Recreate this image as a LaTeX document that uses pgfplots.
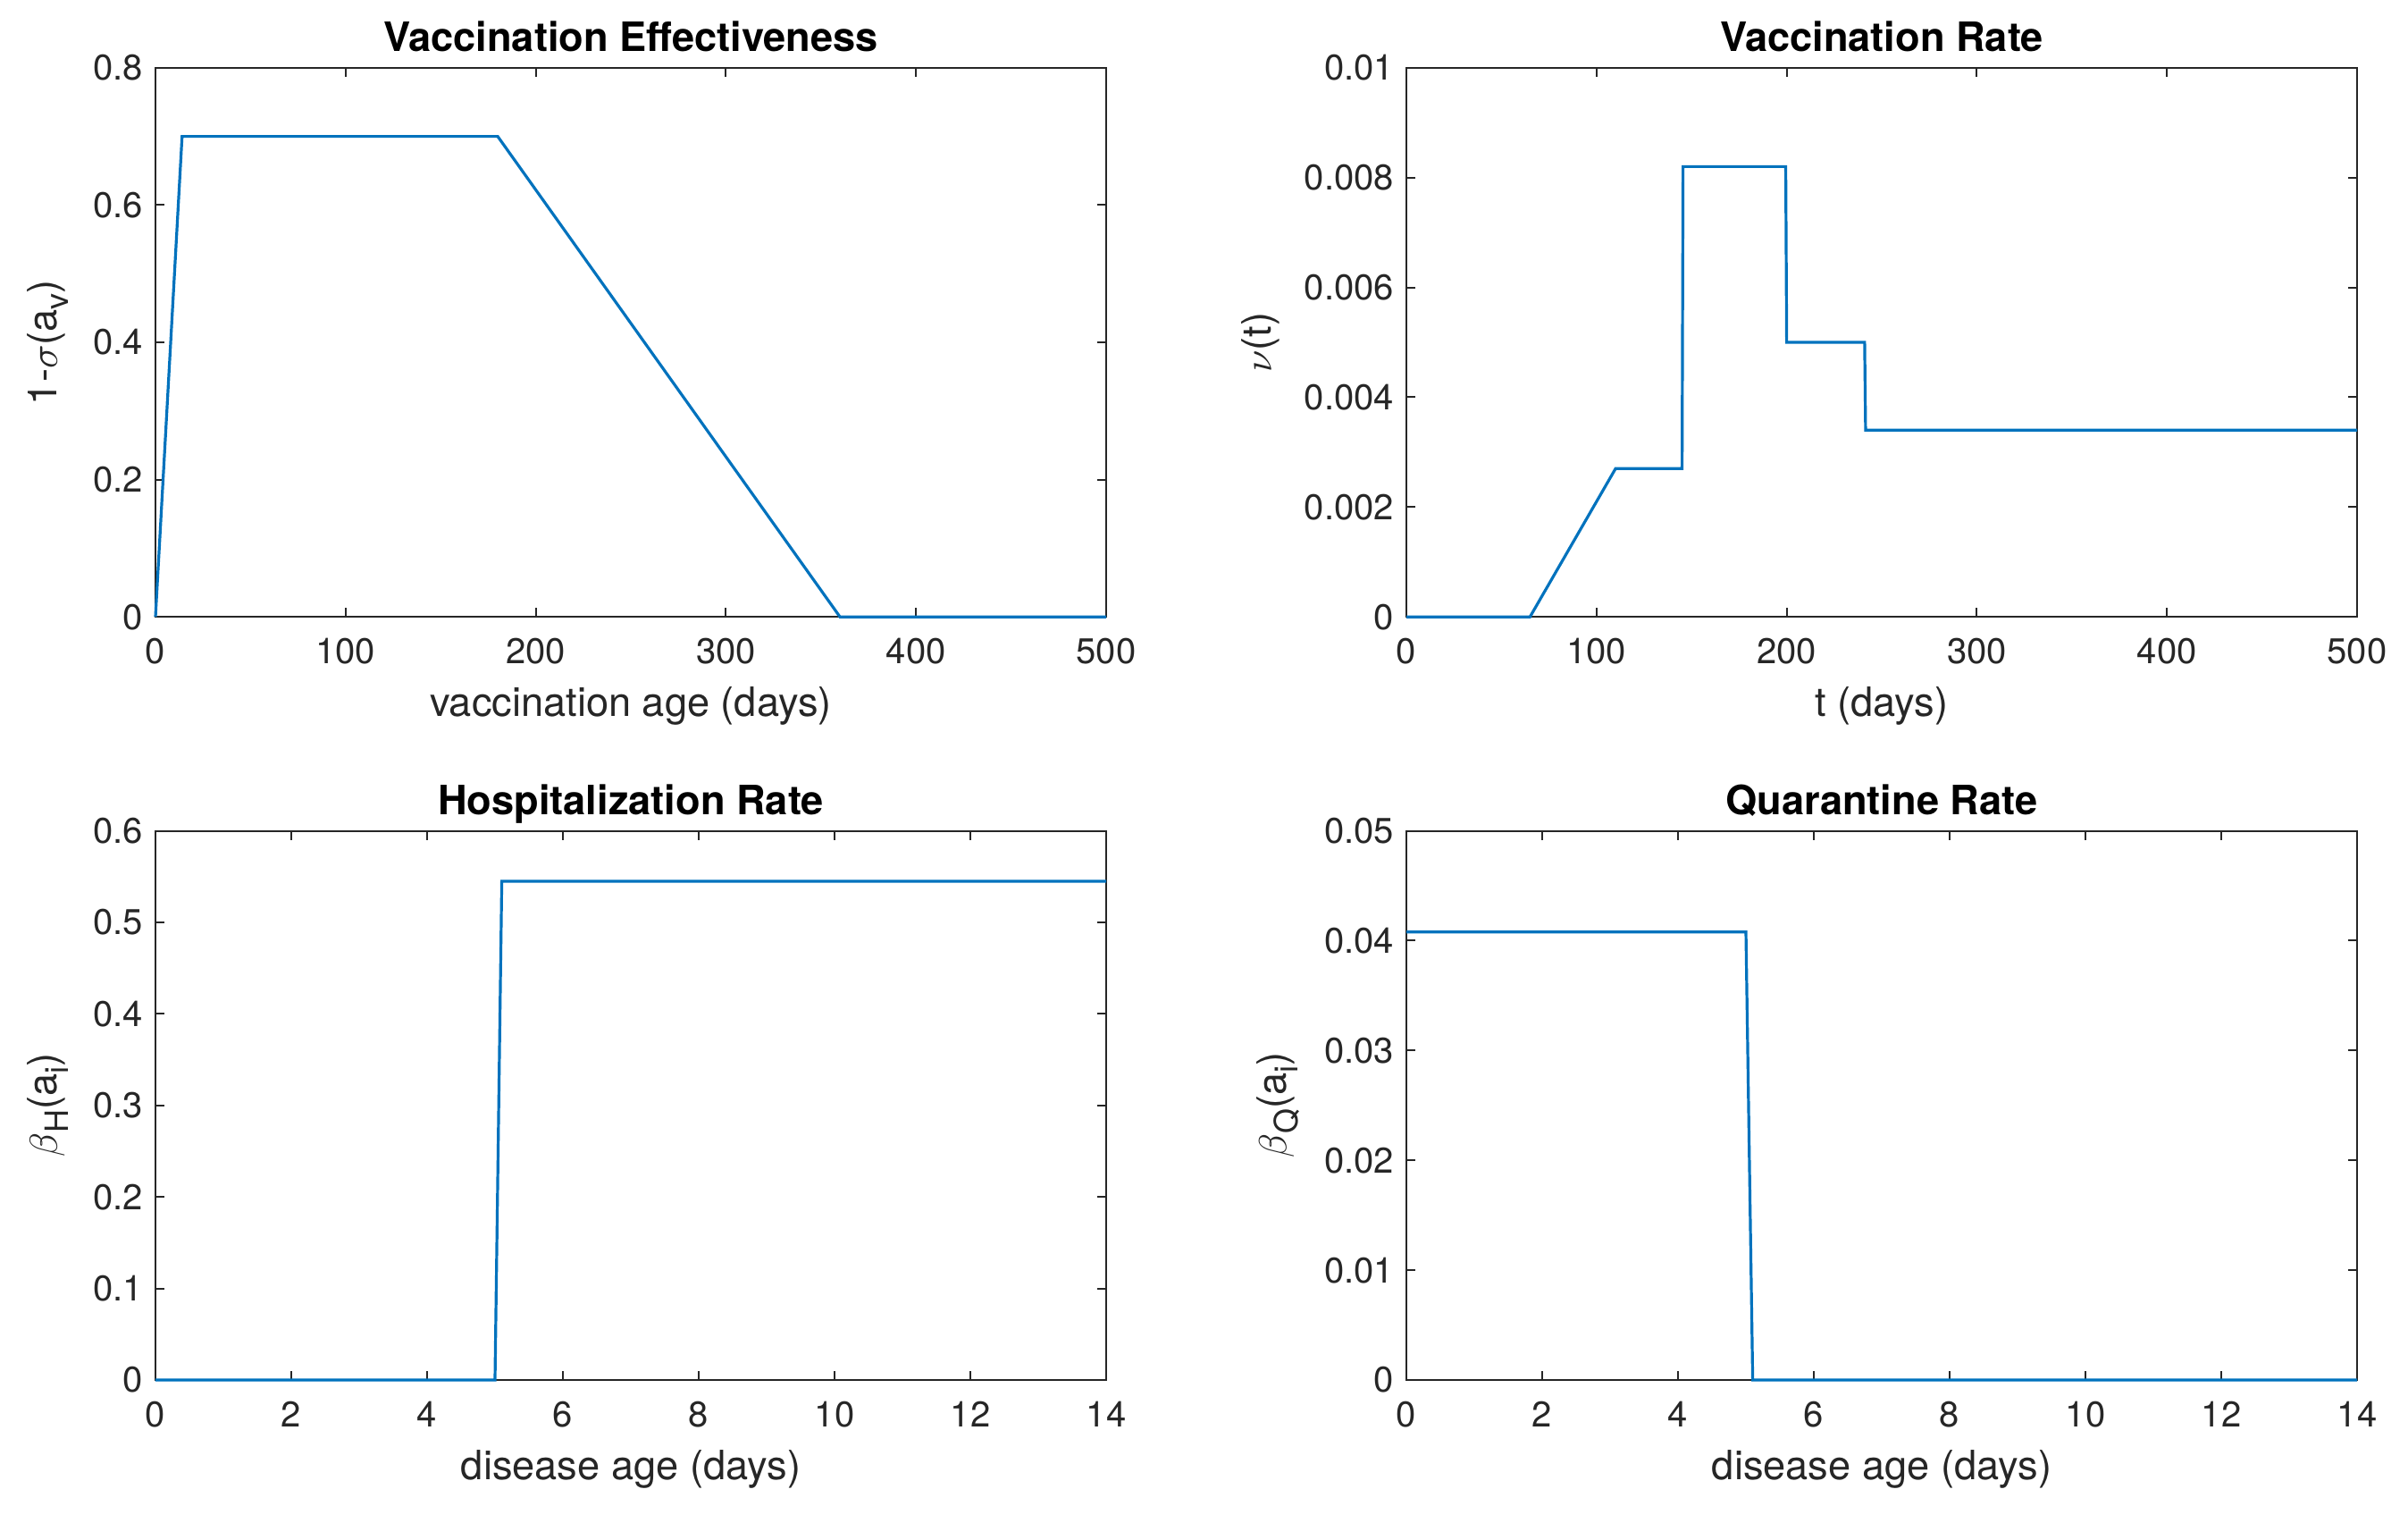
\documentclass[border=0pt]{standalone}
\usepackage{fontspec}
\setmainfont{TeX Gyre Heros}
\usepackage{pgfplots}
\pgfplotsset{compat=1.18}
\definecolor{mblue}{rgb}{0,0.447,0.741}
\definecolor{mgray}{rgb}{0.15,0.15,0.15}

\newcommand{\msub}[1]{\raisebox{-0.55ex}{\fontsize{9}{10}\selectfont #1}}

\pgfplotsset{
  every axis title/.style={at={(0.5,1)}, anchor=base, yshift=4.5pt,
    font=\bfseries\fontsize{11.3}{13}\selectfont, text=black},
  mat/.style={
    scale only axis,
    width=266pt, height=153.6pt,
    clip=false,
    axis line style={mgray, line width=0.5pt},
    tick style={mgray, line width=0.5pt},
    major tick length=2.5pt,
    tick align=inside,
    xtick pos=both, ytick pos=both,
    scaled y ticks=false, scaled x ticks=false,
    tick label style={font=\fontsize{10}{12}\selectfont, text=mgray},
    xticklabel style={anchor=base, yshift=-13pt},
    label style={font=\fontsize{11.3}{13}\selectfont, text=mgray},
    xlabel style={at={(0.5,0)}, anchor=base, yshift=-27.75pt},
    /pgf/number format/assume math mode=true,
  },
  ln/.style={mblue, line width=0.8pt},
}

\begin{document}
\begin{tikzpicture}
\useasboundingbox (0,0) rectangle (673.75pt,425.75pt);

% top left
\begin{axis}[mat, at={(43.5pt,253.2pt)}, anchor=south west,
  title={Vaccination Effectiveness},
  xmin=0, xmax=500, ymin=0, ymax=0.8,
  xtick={0,100,200,300,400,500},
  ytick={0,0.2,0.4,0.6,0.8}, yticklabels={0,0.2,0.4,0.6,0.8},
  xlabel={vaccination age (days)},
  ylabel={1-$\sigma$(a\msub{v})}]
\addplot[ln] coordinates {(0,0) (14,0.7) (180,0.7) (360,0) (500,0)};
\end{axis}

% top right
\begin{axis}[mat, at={(393.5pt,253.2pt)}, anchor=south west,
  title={Vaccination Rate},
  xmin=0, xmax=500, ymin=0, ymax=0.01,
  xtick={0,100,200,300,400,500},
  ytick={0,0.002,0.004,0.006,0.008,0.01},
  yticklabels={0,0.002,0.004,0.006,0.008,0.01},
  xlabel={t (days)},
  ylabel={$\nu$(t)}]
\addplot[ln] coordinates {(0,0) (65,0) (110,0.0027) (145,0.0027) (145.5,0.0082) (199.5,0.0082) (200,0.005) (241,0.005) (241.5,0.0034) (500,0.0034)};
\end{axis}

% bottom left
\begin{axis}[mat, at={(43.5pt,39.75pt)}, anchor=south west,
  title={Hospitalization Rate},
  xmin=0, xmax=14, ymin=0, ymax=0.6,
  xtick={0,2,4,6,8,10,12,14},
  ytick={0,0.1,0.2,0.3,0.4,0.5,0.6},
  yticklabels={0,0.1,0.2,0.3,0.4,0.5,0.6},
  xlabel={disease age (days)},
  ylabel={$\beta$\msub{H}(a\msub{i})}]
\addplot[ln] coordinates {(0,0) (5,0) (5.1,0.545) (14,0.545)};
\end{axis}

% bottom right
\begin{axis}[mat, at={(393.5pt,39.75pt)}, anchor=south west,
  title={Quarantine Rate},
  xmin=0, xmax=14, ymin=0, ymax=0.05,
  xtick={0,2,4,6,8,10,12,14},
  ytick={0,0.01,0.02,0.03,0.04,0.05},
  yticklabels={0,0.01,0.02,0.03,0.04,0.05},
  xlabel={disease age (days)},
  ylabel={$\beta$\msub{Q}(a\msub{i})}]
\addplot[ln] coordinates {(0,0.0408) (5,0.0408) (5.1,0) (14,0)};
\end{axis}
\end{tikzpicture}
\end{document}
